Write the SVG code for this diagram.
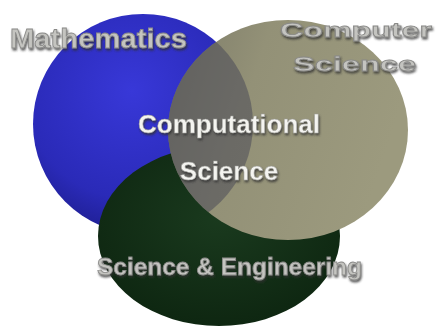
<svg xmlns="http://www.w3.org/2000/svg" width="441" height="328" viewBox="0 0 441 328">
<style>
.lbl{font-family:"Liberation Sans","Arial",sans-serif;font-weight:bold}
.grey{fill:#c4c4c0;stroke:#8a8a88;stroke-width:0.8}
.white{fill:#f4f4f0;stroke:#9a9a96;stroke-width:0.5}
</style>
<defs>
<radialGradient id="gBlue" cx="0.45" cy="0.35" r="0.7">
<stop offset="0" stop-color="#3838d8"/>
<stop offset="0.7" stop-color="#2a2ab8"/>
<stop offset="1" stop-color="#1c1c8a"/>
</radialGradient>
<radialGradient id="gGreen" cx="0.5" cy="0.4" r="0.65">
<stop offset="0" stop-color="#1a3a1e"/>
<stop offset="1" stop-color="#0d2510"/>
</radialGradient>
<linearGradient id="gKhaki" x1="0" y1="0" x2="1" y2="0.3">
<stop offset="0" stop-color="#7c7b68"/>
<stop offset="0.4" stop-color="#939177"/>
<stop offset="1" stop-color="#9c9a7e"/>
</linearGradient>
<clipPath id="cBlue"><ellipse cx="143" cy="124" rx="110" ry="110"/></clipPath>
<filter id="sh" x="-10%" y="-30%" width="120%" height="160%">
<feGaussianBlur in="SourceAlpha" stdDeviation="1.2"/>
<feOffset dx="1" dy="1.5" result="b"/>
<feFlood flood-color="#303030" flood-opacity="0.8"/>
<feComposite in2="b" operator="in"/>
<feMerge><feMergeNode/><feMergeNode in="SourceGraphic"/></feMerge>
</filter>
</defs>
<rect width="441" height="328" fill="#ffffff"/>
<g id="mathematics">
<ellipse cx="143" cy="124" rx="110" ry="110" fill="url(#gBlue)"/>
</g>
<g id="science-engineering">
<ellipse cx="219" cy="236" rx="121" ry="90" fill="url(#gGreen)"/>
</g>
<g id="computer-science">
<ellipse cx="288" cy="130" rx="120" ry="110" fill="url(#gKhaki)"/>
<ellipse cx="288" cy="130" rx="120" ry="110" fill="#4a4a58" opacity="0.55" clip-path="url(#cBlue)"/>
</g>
<g id="connectors"></g>
<g id="labels">
<text class="lbl grey" x="10" y="48" font-size="27" textLength="177" lengthAdjust="spacingAndGlyphs" filter="url(#sh)">Mathematics</text>
<text class="lbl grey" x="280" y="37" font-size="21" textLength="152" lengthAdjust="spacingAndGlyphs" filter="url(#sh)">Computer</text>
<text class="lbl grey" x="293" y="71" font-size="21" textLength="123" lengthAdjust="spacingAndGlyphs" filter="url(#sh)">Science</text>
<text class="lbl white" x="229" y="133" font-size="26" text-anchor="middle" filter="url(#sh)">Computational</text>
<text class="lbl white" x="229" y="180" font-size="26" text-anchor="middle" filter="url(#sh)">Science</text>
<text class="lbl grey" x="97" y="275" font-size="24" textLength="265" lengthAdjust="spacingAndGlyphs" filter="url(#sh)">Science &amp; Engineering</text>
</g>
</svg>
